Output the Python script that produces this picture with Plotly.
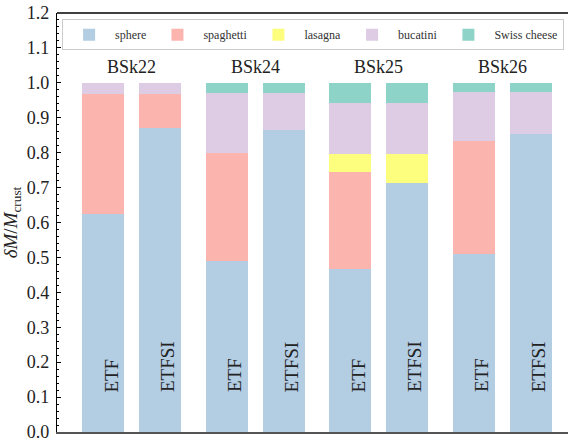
import plotly.graph_objects as go

# Nuclear models and the two methods compared for each
models = ["BSk22", "BSk24", "BSk25", "BSk26"]
methods = ["ETF", "ETFSI"]

# Mass fraction of each pasta phase in the crust, ETF / ETFSI per model
sphere_etf = [0.625, 0.490, 0.467, 0.510]
sphere_etfsi = [0.870, 0.865, 0.712, 0.854]
spaghetti_etf = [0.342, 0.310, 0.279, 0.324]
spaghetti_etfsi = [0.097, 0.0, 0.0, 0.0]
lasagna_etf = [0.0, 0.0, 0.051, 0.0]
lasagna_etfsi = [0.0, 0.0, 0.085, 0.0]
bucatini_etf = [0.033, 0.171, 0.145, 0.139]
bucatini_etfsi = [0.033, 0.106, 0.145, 0.119]
swiss_etf = [0.0, 0.029, 0.058, 0.027]
swiss_etfsi = [0.0, 0.029, 0.058, 0.027]

phases = [
    ("sphere", "#b3cde3", sphere_etf, sphere_etfsi),
    ("spaghetti", "#fbb4ae", spaghetti_etf, spaghetti_etfsi),
    ("lasagna", "#fdfd7e", lasagna_etf, lasagna_etfsi),
    ("bucatini", "#decbe4", bucatini_etf, bucatini_etfsi),
    ("Swiss cheese", "#8dd3c7", swiss_etf, swiss_etfsi),
]

offset = 0.2308
bar_width = 0.34
x_etf = [i - offset for i in range(len(models))]
x_etfsi = [i + offset for i in range(len(models))]

serif = "Liberation Serif"

fig = go.Figure()
for name, color, v_etf, v_etfsi in phases:
    fig.add_trace(go.Bar(
        x=x_etf + x_etfsi,
        y=v_etf + v_etfsi,
        name=name,
        marker=dict(color=color, line=dict(width=0)),
        width=bar_width,
    ))

annotations = []
for i, m in enumerate(models):
    annotations.append(dict(
        x=i, y=1.01, xref="x", yref="y", text=m, showarrow=False,
        yanchor="bottom", xanchor="center",
        font=dict(family=serif, size=18, color="#222"),
    ))
    for xpos, meth in zip((x_etf[i], x_etfsi[i]), methods):
        annotations.append(dict(
            x=xpos, y=0.108, xref="x", yref="y", text=meth, showarrow=False,
            textangle=-90, yanchor="bottom", xanchor="center", xshift=8,
            font=dict(family=serif, size=19, color="#222"),
        ))

fig.update_layout(
    width=568, height=442,
    margin=dict(l=57, r=0, t=13, b=7),
    barmode="stack",
    bargap=0,
    plot_bgcolor="white",
    paper_bgcolor="white",
    font=dict(family=serif, color="#222"),
    annotations=annotations,
    legend=dict(
        orientation="h",
        x=0.01, y=0.985, xanchor="left", yanchor="top",
        bordercolor="#cccccc", borderwidth=1,
        bgcolor="white",
        font=dict(family=serif, size=12, color="#333"),
        traceorder="normal",
        itemwidth=42,
    ),
    shapes=[dict(type="line", xref="paper", yref="paper", x0=0, x1=1, y0=1, y1=1,
                 line=dict(color="black", width=1.5))],
)

fig.update_xaxes(
    range=[-0.606, 3.534],
    showticklabels=False, ticks="", showgrid=False, zeroline=False,
    showline=True, linecolor="#555555", linewidth=1.5,
)
fig.update_yaxes(
    range=[0, 1.2], dtick=0.1, tickformat=".1f",
    showgrid=False, zeroline=False,
    showline=True, linecolor="black", linewidth=1.2,
    ticks="inside", ticklen=4, tickwidth=1, tickcolor="black",
    minor=dict(ticks="inside", dtick=0.02, ticklen=2, tickcolor="black", tickwidth=1),
    ticklabelstandoff=3,
    ticklabeloverflow="allow",
    tickfont=dict(family=serif, size=18, color="#222"),
    title=dict(text="<i>δM</i>/<i>M</i><sub>crust</sub>",
               font=dict(family=serif, size=19, color="#222"), standoff=8),
)

fig.write_html("out.html")
